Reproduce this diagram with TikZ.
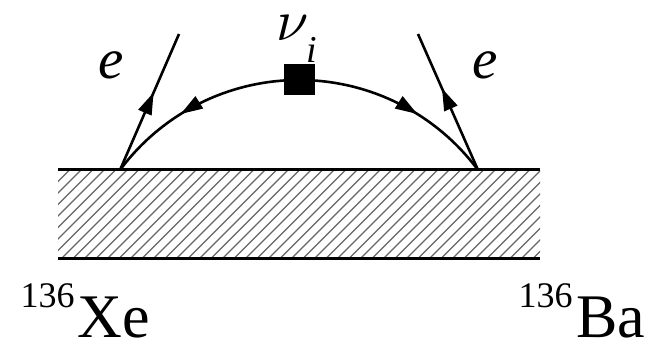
\documentclass[tikz,border=0pt]{standalone}
\usepackage{fontspec}
\setmainfont{Liberation Serif}
\usetikzlibrary{arrows.meta,decorations.markings}
\begin{document}
\begin{tikzpicture}[x=1pt,y=1pt,
  thick line/.style={line width=2.6pt},
  barline/.style={line width=3pt},
  midarrow/.style={postaction={decorate},decoration={markings,mark=at position #1 with {\arrow{Triangle[length=22pt,width=14pt]}}}},
  hatchline/.style={line width=1.1pt, black!60},
  lbl/.style={inner sep=0pt, outer sep=0pt},
  vertexbox/.style={fill=black, draw=none, minimum size=31pt, inner sep=0pt},
]
\useasboundingbox (0,0) rectangle (654,343);
% hatched bar
\begin{scope}
  \clip (58,84) rectangle (540,173);
  \foreach \k in {0,...,51} \draw[hatchline] ({-31+\k*11.5},84) -- ++(89,89);
\end{scope}
\coordinate (TL) at (58,173);
\coordinate (TR) at (540,173);
\coordinate (BL) at (58,84);
\coordinate (BR) at (540,84);
\draw[barline] (TL) -- (TR);
\draw[barline] (BL) -- (BR);
% vertices
\coordinate (L) at (120,173);
\coordinate (R) at (478,173);
\coordinate (Le) at (179,309);
\coordinate (Re) at (418,309);
\node[vertexbox] (sq) at (299,263) {};
% neutrino line
\draw[thick line, midarrow=0.6] (sq.center) arc[start angle=90, end angle=143.4, radius=223];
\draw[thick line, midarrow=0.6] (sq.center) arc[start angle=90, end angle=36.6, radius=223];
% electrons
\draw[thick line, midarrow=0.57] (L) -- (Le);
\draw[thick line, midarrow=0.6] (R) -- (Re);
% labels
\node[lbl] (eL) at (111,278) {\fontsize{57}{57}\selectfont\itshape e};
\node[lbl] (eR) at (485,278) {\fontsize{57}{57}\selectfont\itshape e};
\node[lbl] (nu) at (292.5,315) {\scalebox{5.8}{$\nu$}};
\node[lbl] (nui) at (312,293) {\fontsize{38}{38}\selectfont\itshape i};
\node[lbl] (xe) at (113.5,25) {\fontsize{62}{62}\selectfont Xe};
\node[lbl] (xen) at (47.5,47) {\fontsize{36}{36}\selectfont 136};
\node[lbl] (ba) at (610.5,25) {\fontsize{62}{62}\selectfont Ba};
\node[lbl] (ban) at (545.5,47) {\fontsize{36}{36}\selectfont 136};
\end{tikzpicture}
\end{document}
